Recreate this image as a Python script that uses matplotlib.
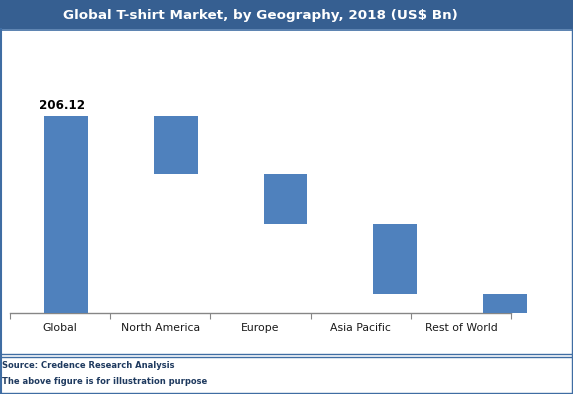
import matplotlib.pyplot as plt
import numpy as np
from matplotlib.patches import Rectangle
from matplotlib.lines import Line2D

categories = ["Global", "North America", "Europe", "Asia Pacific", "Rest of World"]
total = 206.12
regions = [60.7, 52.3, 73.2, 19.92]

W, H = 573, 394
fig = plt.figure(figsize=(W / 100, H / 100), dpi=100)
fig.patch.set_facecolor("white")

border = "#3F6DA3"
band = "#365F91"

# title band
fig.patches.append(Rectangle((0, 1 - 29 / H), 1, 29 / H, transform=fig.transFigure,
                             facecolor=band, edgecolor="none", zorder=0))
fig.text(260 / W, 1 - 15 / H, "Global T-shirt Market, by Geography, 2018 (US$ Bn)",
         color="white", fontsize=9.7, fontweight="bold", ha="center", va="center",
         family="DejaVu Sans")

# outer border and footer lines
def hline(ypx, x0=0, x1=W, lw=1.0):
    fig.lines.append(Line2D([x0 / W, x1 / W], [1 - ypx / H, 1 - ypx / H],
                            transform=fig.transFigure, color=border, lw=lw))

def vline(xpx, y0, y1, lw=1.0):
    fig.lines.append(Line2D([xpx / W, xpx / W], [1 - y0 / H, 1 - y1 / H],
                            transform=fig.transFigure, color=border, lw=lw))

hline(29.5, lw=1.2)
hline(353.5)
hline(356.5)
hline(392.5)
vline(0.8, 29, 393, lw=1.5)
vline(571.5, 29, 393)

fig.text(2 / W, 1 - 365 / H, "Source: Credence Research Analysis", color="#1F3A5F",
         fontsize=6.0, fontweight="bold", ha="left", va="center")
fig.text(2 / W, 1 - 382 / H, "The above figure is for illustration purpose", color="#1F3A5F",
         fontsize=6.0, fontweight="bold", ha="left", va="center")

# chart axes: one for the category axis, one (overlaid) for the bars
ax_left, ax_right = 10, 511
ax_top, ax_base = 40, 313
rect = [ax_left / W, 1 - ax_base / H, (ax_right - ax_left) / W, (ax_base - ax_top) / H]
ax_cat = fig.add_axes(rect)
ax = fig.add_axes(rect)
ax.set_facecolor("none")
ax_cat.set_facecolor("none")

values = [total] + regions
bottoms = [0] + list(total - np.cumsum(regions))
x = np.arange(len(categories))
bars = ax.bar(x, values, bottom=bottoms, width=0.40, color="#4F81BD")
for b in bars:
    b.set_clip_on(False)

ax.text(-0.04, total + 4, f"{total:.2f}", ha="center", va="bottom", fontsize=8.6,
        fontweight="bold", color="black")

# bars sit on a slightly wider step than the category slots
step = 109.75
ax.set_xlim(-(66 - ax_left) / step, (ax_right - 66) / step)
ax.set_ylim(0, total * (ax_base - ax_top) / (ax_base - 116))
ax.axis("off")

ax_cat.set_xlim(-0.5, len(categories) - 0.5)
for s in ["top", "right", "left"]:
    ax_cat.spines[s].set_visible(False)
ax_cat.spines["bottom"].set_color("#868686")
ax_cat.spines["bottom"].set_linewidth(1.0)
ax_cat.set_yticks([])
ax_cat.set_xticks(np.arange(-0.5, len(categories)))
ax_cat.set_xticklabels([])
ax_cat.tick_params(axis="x", which="major", length=4, color="#868686", direction="out")
ax_cat.set_xticks(x, minor=True)
ax_cat.set_xticklabels(categories, minor=True, fontsize=7.8, color="#1a1a1a")
ax_cat.tick_params(axis="x", which="minor", length=0, pad=7.5)

fig.savefig("out.png", dpi=100)
